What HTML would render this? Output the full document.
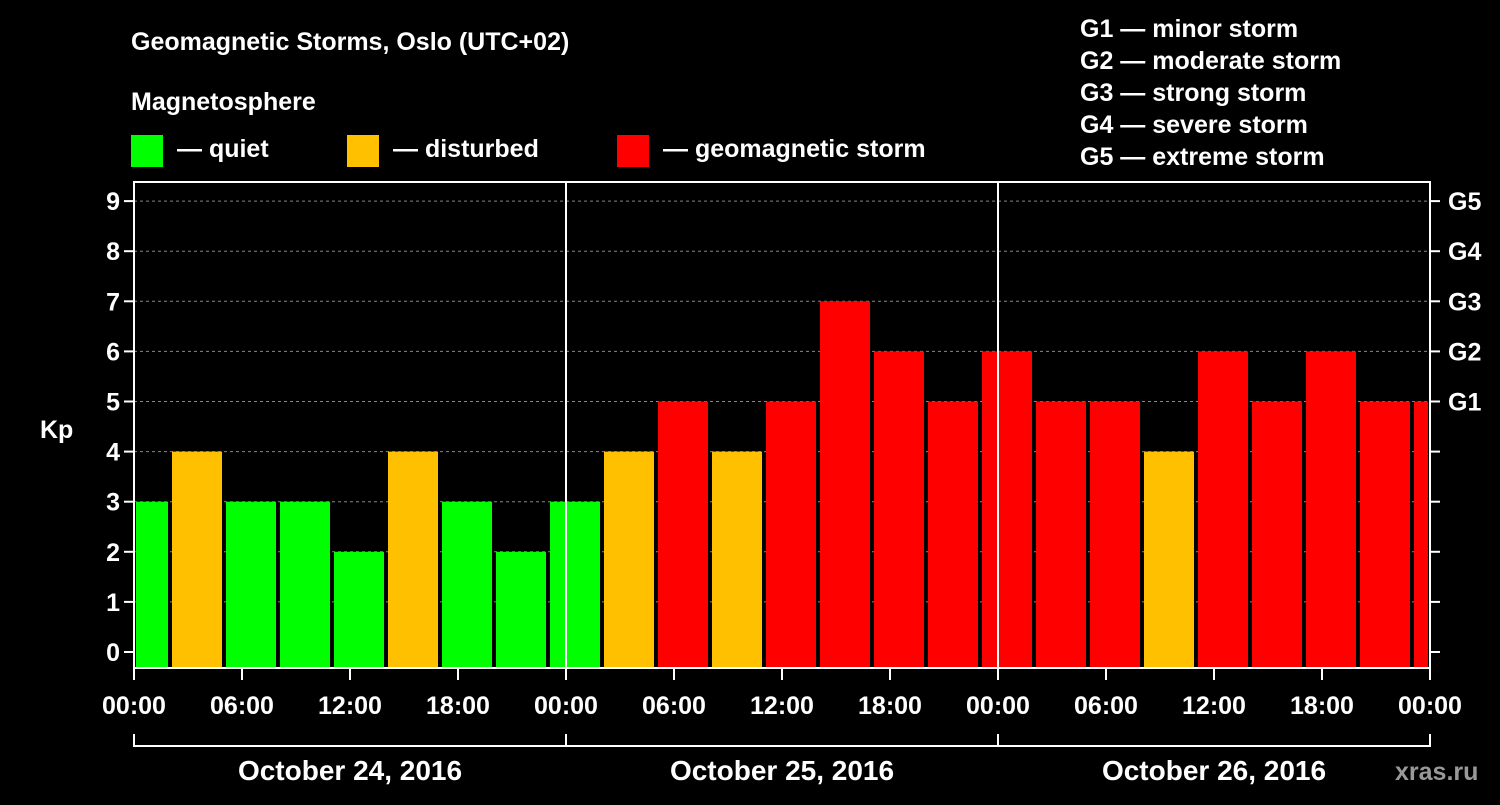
<!DOCTYPE html>
<html><head><meta charset="utf-8"><style>
body{margin:0;background:#000;}
svg text{font-family:"Liberation Sans",Arial,sans-serif;font-weight:bold;fill:#fff;}
</style></head><body>
<svg id="chart" width="1500" height="800" viewBox="0 0 1500 800" xmlns="http://www.w3.org/2000/svg">
<rect width="1500" height="800" fill="#000"/>
<text x="131" y="50" font-size="25">Geomagnetic Storms, Oslo (UTC+02)</text>
<text x="131" y="110" font-size="25">Magnetosphere</text>
<g><rect x="131" y="135" width="32" height="32" fill="#00ff00"/><text x="177" y="157" font-size="25">— quiet</text></g>
<g><rect x="347" y="135" width="32" height="32" fill="#ffc000"/><text x="393" y="157" font-size="25">— disturbed</text></g>
<g><rect x="617" y="135" width="32" height="32" fill="#ff0000"/><text x="663" y="157" font-size="25">— geomagnetic storm</text></g>
<g font-size="25">
<text x="1080" y="37">G1 — minor storm</text>
<text x="1080" y="69">G2 — moderate storm</text>
<text x="1080" y="101">G3 — strong storm</text>
<text x="1080" y="133">G4 — severe storm</text>
<text x="1080" y="165">G5 — extreme storm</text>
</g>
<text x="40" y="438" font-size="25">Kp</text>
<g id="grid"></g><g id="bars"></g><g id="axes"></g>
<text x="1395" y="780" font-size="25" fill="#999" style="fill:#999">xras.ru</text>
</svg>
<script>
const kpValues=[3,4,3,3,2,4,3,2,3,4,5,4,5,7,6,5,6,5,5,4,6,5,6,5,5];
const yTicks=[0,1,2,3,4,5,6,7,8,9];
const gLabels=["G1","G2","G3","G4","G5"];
const timeLabels=["00:00","06:00","12:00","18:00","00:00","06:00","12:00","18:00","00:00","06:00","12:00","18:00","00:00"];
const dayLabels=["October 24, 2016","October 25, 2016","October 26, 2016"];
const NS="http://www.w3.org/2000/svg";
const X0=134,X1=1430,T=72,Y0=652,YU=50.1,TOP=182,BOT=668;
const x=h=>X0+(X1-X0)*h/T;
const y=v=>Y0-v*YU;
function mk(tag,attrs,parent,text){const e=document.createElementNS(NS,tag);for(const k in attrs)e.setAttribute(k,attrs[k]);if(text!==undefined)e.textContent=text;document.getElementById(parent).appendChild(e);return e;}
yTicks.forEach(v=>{if(v>0){const l=mk('line',{x1:X0,x2:X1,y1:y(v),y2:y(v),stroke:'#888','stroke-dasharray':'3,3','stroke-width':1},'grid');

}});
kpValues.forEach((v,i)=>{let s=Math.max(0,3*i-1),e=Math.min(T,3*i+2);
const c=v>=5?'#ff0000':(v>=4?'#ffc000':'#00ff00');
const r=mk('rect',{x:x(s)+2,y:y(v),width:x(e)-x(s)-4,height:BOT-y(v),fill:c},'bars');

});
const fr=mk('rect',{x:X0,y:TOP,width:X1-X0,height:BOT-TOP,fill:'none',stroke:'#fff','stroke-width':2},'axes');


[24,48].forEach(h=>{const l=mk('line',{x1:x(h),x2:x(h),y1:TOP,y2:BOT,stroke:'#fff','stroke-width':2},'axes');

});
yTicks.forEach(v=>{mk('line',{x1:X0-10,x2:X0,y1:y(v),y2:y(v),stroke:'#fff','stroke-width':2},'axes');
mk('line',{x1:X1,x2:X1+10,y1:y(v),y2:y(v),stroke:'#fff','stroke-width':2},'axes');
const t=mk('text',{x:X0-14,y:y(v)+9,'text-anchor':'end','font-size':25},'axes',String(v));

});
gLabels.forEach((g,i)=>{const t=mk('text',{x:X1+18,y:y(5+i)+9,'font-size':25},'axes',g);

});
timeLabels.forEach((lab,i)=>{const h=i*6;mk('line',{x1:x(h),x2:x(h),y1:BOT,y2:BOT+12,stroke:'#fff','stroke-width':2},'axes');
const t=mk('text',{x:x(h),y:714,'text-anchor':'middle','font-size':25},'axes',lab);

});
mk('line',{x1:X0,x2:X1,y1:746,y2:746,stroke:'#fff','stroke-width':2},'axes');
[0,24,48,72].forEach(h=>mk('line',{x1:x(h),x2:x(h),y1:734,y2:747,stroke:'#fff','stroke-width':2},'axes'));
dayLabels.forEach((d,i)=>{const t=mk('text',{x:x(12+24*i),y:780,'text-anchor':'middle','font-size':28},'axes',d);

});
</script>
</body></html>
